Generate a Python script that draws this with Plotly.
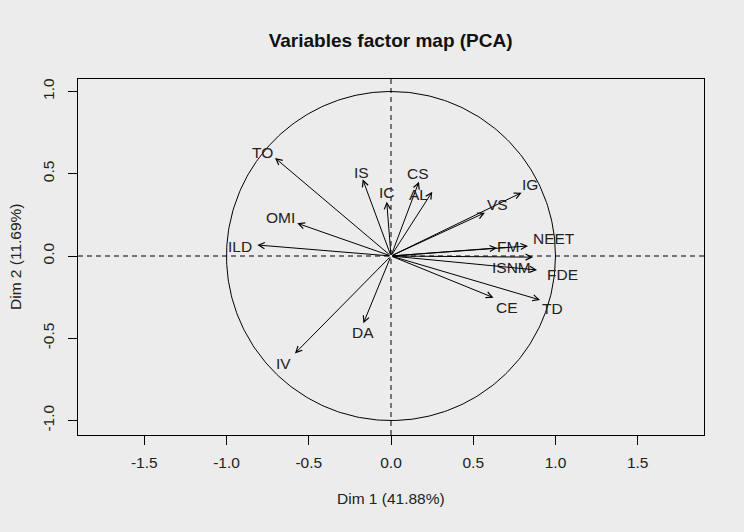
import numpy as np
import plotly.graph_objects as go

# ---- data ----
variables = ["TO", "IS", "IC", "OMI", "ILD", "CS", "AL", "VS", "IG",
             "FM", "NEET", "ISNM", "FDE", "CE", "TD", "DA", "IV"]
dim1 = [-0.705, -0.172, -0.026, -0.570, -0.813, 0.170, 0.251, 0.571, 0.794,
        0.645, 0.833, 0.863, 0.888, 0.623, 0.906, -0.168, -0.584]
dim2 = [0.596, 0.466, 0.330, 0.199, 0.067, 0.452, 0.391, 0.263, 0.385,
        0.049, 0.061, -0.007, -0.085, -0.253, -0.267, -0.409, -0.592]
x_ticks = [-1.5, -1.0, -0.5, 0.0, 0.5, 1.0, 1.5]
y_ticks = [-1.0, -0.5, 0.0, 0.5, 1.0]
title = "Variables factor map (PCA)"
x_title = "Dim 1 (41.88%)"
y_title = "Dim 2 (11.69%)"

# label placement offsets in pixels (styling), relative to arrow tips
label_dx = [-13, -1, 0, -17, -17, -1, -14, 13, 8, 11, 26, -21, 25, 14, 12, 0, -11]
label_dy = [-5, -7, -9, -6, 2, -8, 3, -8, -8, -1, -7, 10, 4, 10, 9, 9, 10]

FONT = "Liberation Sans, Arial, sans-serif"
TXT = "#222222"
BG = "#ececec"

fig = go.Figure()

# unit circle
t = np.linspace(0, 2 * np.pi, 361)
fig.add_trace(go.Scatter(x=np.cos(t), y=np.sin(t), mode="lines",
                         line=dict(color="black", width=1), hoverinfo="skip",
                         showlegend=False))

# dashed axes through origin
fig.add_shape(type="line", xref="x", yref="paper", x0=0, x1=0, y0=0, y1=1,
              line=dict(color="black", width=1, dash="5px,4px"))
fig.add_shape(type="line", xref="paper", yref="y", x0=0, x1=1, y0=0, y1=0,
              line=dict(color="black", width=1, dash="5px,4px"))

# arrows and labels
for name, vx, vy, dx, dy in zip(variables, dim1, dim2, label_dx, label_dy):
    fig.add_annotation(x=vx, y=vy, ax=0, ay=0, xref="x", yref="y",
                       axref="x", ayref="y", text="", showarrow=True,
                       arrowhead=5, arrowsize=1.2, arrowwidth=1,
                       arrowcolor="black", standoff=0, startstandoff=0)
    fig.add_annotation(x=vx, y=vy, xref="x", yref="y", text=name,
                       showarrow=False, xshift=dx, yshift=-dy,
                       font=dict(family=FONT, size=15.5, color=TXT))

# axis titles
fig.add_annotation(x=0.5, y=0, xref="paper", yref="paper", yshift=-74,
                   text=x_title, showarrow=False,
                   font=dict(family=FONT, size=15.5, color=TXT))
fig.add_annotation(x=0, y=0.5, xref="paper", yref="paper", xshift=-63,
                   xanchor="center", text=y_title, showarrow=False,
                   textangle=-90,
                   font=dict(family=FONT, size=15.5, color=TXT))

fig.update_layout(
    width=744, height=532,
    margin=dict(l=78, r=40, t=79, b=97),
    paper_bgcolor=BG, plot_bgcolor=BG,
    title=dict(text="<b>" + title + "</b>", x=0.525, xanchor="center",
               y=1 - 40 / 532, yanchor="middle",
               font=dict(family=FONT, size=19, color="#111111")),
    showlegend=False,
    xaxis=dict(range=[-1.903, 1.903], tickvals=x_ticks,
               ticktext=[f"{v:.1f}" for v in x_ticks],
               showgrid=False, zeroline=False, showline=True, mirror=True,
               linecolor="black", linewidth=1, ticks="outside", ticklen=9,
               tickcolor="black", ticklabelstandoff=4,
               tickfont=dict(family=FONT, size=15.5, color=TXT)),
    yaxis=dict(range=[-1.088, 1.076], tickvals=y_ticks,
               ticktext=[f"{v:.1f}" for v in y_ticks],
               showgrid=False, zeroline=False, showline=True, mirror=True,
               linecolor="black", linewidth=1, ticks="outside", ticklen=9,
               tickcolor="black", tickangle=-90, ticklabelstandoff=8,
               tickfont=dict(family=FONT, size=15.5, color=TXT)),
)

fig.write_html("out.html")
